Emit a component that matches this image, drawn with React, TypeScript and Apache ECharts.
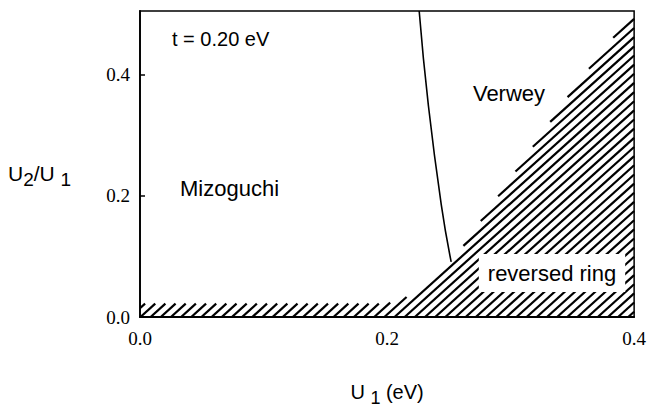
import React, { useEffect, useRef } from 'react';
import * as echarts from 'echarts';

// Phase boundary between Mizoguchi and Verwey phases (solid curve)
const boundaryU1 = [0.226, 0.2334, 0.2439, 0.2519];
const boundaryRatio = [0.505, 0.35, 0.185, 0.091];

// Upper edge of the hatched "reversed ring" region
const ringEdgeU1 = [0.0, 0.2, 0.22, 0.252, 0.352, 0.4];
const ringEdgeRatio = [0.022, 0.022, 0.036, 0.089, 0.38, 0.505];

// Axes
const xMin = 0.0;
const xMax = 0.4;
const yMin = 0.0;
const yMax = 0.505;
const tickStep = 0.2;

const onTick = (v: number) => Math.abs(v / tickStep - Math.round(v / tickStep)) < 1e-6;

export default function App() {
  const ref = useRef<HTMLDivElement>(null);

  useEffect(() => {
    if (!ref.current) return;
    const chart = echarts.init(ref.current, null, { renderer: 'svg' });

    const hatchAngle = (42 * Math.PI) / 180;
    const hatchSpacing = 6.8;

    const option: any = {
      animation: false,
      backgroundColor: '#ffffff',
      grid: {
        left: 140,
        right: 12,
        top: 11,
        bottom: 98,
        show: true,
        borderColor: '#000',
        borderWidth: 1.5,
        backgroundColor: 'transparent',
      },
      xAxis: {
        type: 'value',
        min: xMin,
        max: xMax,
        interval: tickStep,
        name: 'U {s|1} (eV)',
        nameLocation: 'middle',
        nameGap: 60,
        nameTextStyle: {
          fontFamily: 'Liberation Sans',
          fontSize: 20,
          color: '#000',
          rich: {
            s: { fontFamily: 'Liberation Sans', fontSize: 18, color: '#000', padding: [12, 0, 0, 0] },
          },
        },
        axisLine: { show: true, lineStyle: { color: '#000', width: 1.8 } },
        axisTick: { show: false },
        splitLine: { show: false },
        axisLabel: {
          fontFamily: 'Liberation Serif',
          fontSize: 19,
          color: '#000',
          margin: 12,
          formatter: (v: number) => (onTick(v) ? v.toFixed(1) : ''),
        },
      },
      yAxis: {
        type: 'value',
        min: yMin,
        max: yMax,
        interval: tickStep,
        axisLine: { show: true, lineStyle: { color: '#000', width: 1.8 } },
        axisTick: { show: true, inside: true, length: 5, lineStyle: { color: '#000', width: 1.5 } },
        splitLine: { show: false },
        axisLabel: {
          fontFamily: 'Liberation Serif',
          fontSize: 19,
          color: '#000',
          margin: 10,
          showMaxLabel: false,
          formatter: (v: number) => (onTick(v) ? v.toFixed(1) : ''),
        },
      },
      graphic: [
        {
          type: 'text',
          left: 8,
          top: 163,
          z: 100,
          style: {
            text: 'U{s|2}/U {s|1}',
            fontFamily: 'Liberation Sans',
            fontSize: 21,
            fill: '#000',
            rich: {
              s: { fontFamily: 'Liberation Sans', fontSize: 19, fill: '#000', padding: [12, 0, 0, 0] },
            },
          },
        },
        {
          type: 'text',
          x: 172,
          y: 39,
          z: 100,
          style: {
            text: 't = 0.20 eV',
            fontFamily: 'Liberation Sans',
            fontSize: 20,
            fill: '#000',
            verticalAlign: 'middle',
          },
        },
        {
          type: 'text',
          x: 509,
          y: 93,
          z: 100,
          style: {
            text: 'Verwey',
            fontFamily: 'Liberation Sans',
            fontSize: 22,
            fill: '#000',
            align: 'center',
            verticalAlign: 'middle',
          },
        },
        {
          type: 'text',
          x: 180,
          y: 188,
          z: 100,
          style: {
            text: 'Mizoguchi',
            fontFamily: 'Liberation Sans',
            fontSize: 22,
            fill: '#000',
            verticalAlign: 'middle',
          },
        },
        {
          type: 'text',
          x: 552,
          y: 273,
          z: 100,
          style: {
            text: 'reversed ring',
            fontFamily: 'Liberation Sans',
            fontSize: 22,
            fill: '#000',
            align: 'center',
            verticalAlign: 'middle',
            backgroundColor: '#ffffff',
            padding: [8, 9, 8, 9],
          },
        },
      ],
      series: [
        {
          type: 'custom',
          coordinateSystem: 'cartesian2d',
          data: ringEdgeU1.map((x, i) => [x, ringEdgeRatio[i]]),
          encode: { x: 0, y: 1 },
          clip: true,
          z: 3,
          renderItem: (params: any, api: any) => {
            if (params.dataIndex !== 0) return null;
            const edge = ringEdgeU1.map((x, i) => api.coord([x, ringEdgeRatio[i]]));
            const poly: number[][] = [...edge, api.coord([xMax, yMin]), api.coord([xMin, yMin])];
            const dx = Math.cos(hatchAngle);
            const dy = -Math.sin(hatchAngle);
            const nx = Math.sin(hatchAngle);
            const ny = Math.cos(hatchAngle);
            const proj = poly.map((p) => p[0] * nx + p[1] * ny);
            const cMin = Math.min(...proj);
            const cMax = Math.max(...proj);
            const children: any[] = [];
            for (let c = cMin + hatchSpacing / 2; c < cMax; c += hatchSpacing) {
              const hits: number[][] = [];
              for (let i = 0; i < poly.length; i++) {
                const a = poly[i];
                const b = poly[(i + 1) % poly.length];
                const fa = a[0] * nx + a[1] * ny - c;
                const fb = b[0] * nx + b[1] * ny - c;
                if ((fa <= 0 && fb > 0) || (fb <= 0 && fa > 0)) {
                  const t = fa / (fa - fb);
                  hits.push([a[0] + t * (b[0] - a[0]), a[1] + t * (b[1] - a[1])]);
                }
              }
              hits.sort((p, q) => p[0] * dx + p[1] * dy - (q[0] * dx + q[1] * dy));
              for (let k = 0; k + 1 < hits.length; k += 2) {
                children.push({
                  type: 'line',
                  shape: { x1: hits[k][0], y1: hits[k][1], x2: hits[k + 1][0], y2: hits[k + 1][1] },
                  style: { stroke: '#000', lineWidth: 2.2 },
                });
              }
            }
            return { type: 'group', children };
          },
        },
        {
          type: 'line',
          data: boundaryU1.map((x, i) => [x, boundaryRatio[i]]),
          smooth: true,
          showSymbol: false,
          symbol: 'none',
          z: 4,
          lineStyle: { color: '#000', width: 1.6 },
        },
      ],
    };

    chart.setOption(option);
    return () => chart.dispose();
  }, []);

  return (
    <div
      ref={ref}
      style={{ position: 'fixed', left: 0, top: 0, width: 649, height: 415, background: '#fff' }}
    />
  );
}
